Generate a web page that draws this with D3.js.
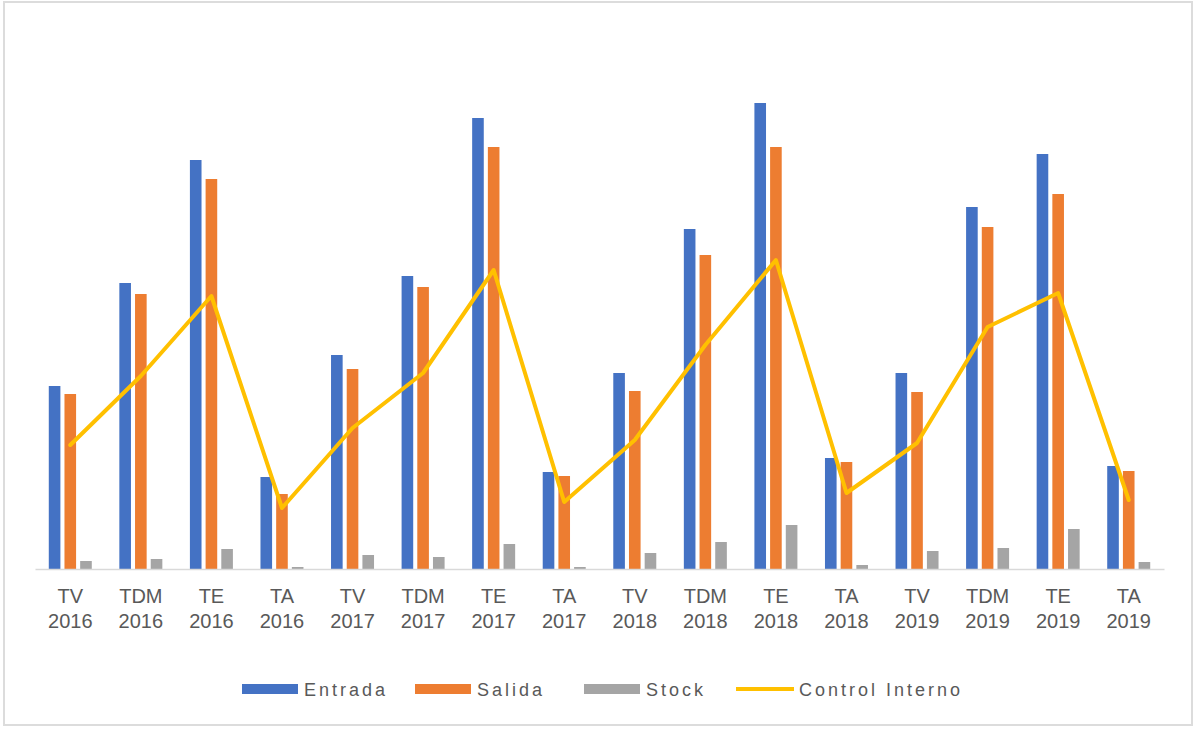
<!DOCTYPE html>
<html lang="es">
  <head>
    <meta charset="utf-8" />
    <title>Entrada, Salida, Stock y Control Interno</title>
    <script src="https://cdn.jsdelivr.net/npm/d3@7"></script>
    <style type="text/css">
      body {
        margin: 0;
        background: #ffffff;
      }
      text {
        font-family: "Liberation Sans", Arial, sans-serif;
        fill: #595959;
      }
    </style>
  </head>
  <body>
    <div id="chart"></div>

    <script type="text/javascript">
      /*******************************************
       * data
       *******************************************/

      const tipos = ["TV", "TDM", "TE", "TA"];
      const years = ["2016", "2017", "2018", "2019"];
      const categories = years.flatMap((y) => tipos.map((t) => `${t} ${y}`));

      const entrada = [183, 286, 409, 92, 214, 293, 451, 97, 196, 340, 466, 111, 196, 362, 415, 103];
      const salida = [175, 275, 390, 75, 200, 282, 422, 93, 178, 314, 422, 107, 177, 342, 375, 98];
      const stock = [8, 10, 20, 2, 14, 12, 25, 2, 16, 27, 44, 4, 18, 21, 40, 7];
      const controlInterno = [124, 193, 273, 61, 141, 196, 299, 67, 129, 224, 309, 76, 126, 242, 276, 69];

      const barKeys = ["Entrada", "Salida", "Stock"];
      const barValues = { Entrada: entrada, Salida: salida, Stock: stock };

      /********************************************
       * svg
       ********************************************/

      const width = 1194;
      const height = 729;
      const margin = { top: 69, right: 30, bottom: 160, left: 35 };

      const svg = d3
        .select("div#chart")
        .append("svg")
        .attr("width", width)
        .attr("height", height);

      // chart frame
      svg
        .append("rect")
        .attr("x", 4)
        .attr("y", 2)
        .attr("width", 1188)
        .attr("height", 723)
        .attr("fill", "#ffffff")
        .attr("stroke", "#dcdcdc")
        .attr("stroke-width", 2);

      /*********************************************
       * scales
       **********************************************/

      const xScale = d3
        .scaleBand()
        .domain(categories)
        .range([margin.left, width - margin.right]);

      const groupW = 43;
      const xSub = d3
        .scaleBand()
        .domain(barKeys)
        .range([(xScale.bandwidth() - groupW) / 2, (xScale.bandwidth() + groupW) / 2])
        .paddingInner(0.26);

      const yScale = d3
        .scaleLinear()
        .domain([0, 500])
        .range([height - margin.bottom, margin.top]);

      const colorScale = d3
        .scaleOrdinal()
        .domain(["Entrada", "Salida", "Stock", "Control Interno"])
        .range(["#4472C4", "#ED7D31", "#A5A5A5", "#FFC000"]);

      /*********************************************
       * bars
       **********************************************/

      const groups = svg
        .selectAll("g.group")
        .data(categories)
        .enter()
        .append("g")
        .attr("class", "group")
        .attr("transform", (d) => `translate(${xScale(d)}, 0)`);

      groups
        .selectAll("rect")
        .data((d, i) => barKeys.map((k) => ({ key: k, value: barValues[k][i] })))
        .enter()
        .append("rect")
        .attr("x", (d) => xSub(d.key))
        .attr("width", xSub.bandwidth())
        .attr("y", (d) => yScale(d.value))
        .attr("height", (d) => yScale(0) - yScale(d.value))
        .attr("fill", (d) => colorScale(d.key));

      /*********************************************
       * x axis
       **********************************************/

      const xAxis = d3.axisBottom(xScale).tickSize(0).tickFormat("");
      const axisG = svg
        .append("g")
        .attr("class", "x axis")
        .attr("transform", `translate(0, ${yScale(0)})`)
        .call(xAxis);
      axisG.select(".domain").attr("stroke", "#d9d9d9").attr("stroke-width", 1.5);

      const labels = axisG
        .selectAll("g.tick")
        .append("text")
        .attr("text-anchor", "middle")
        .style("font-size", "20px")
        .style("fill", "#595959");
      labels
        .append("tspan")
        .attr("x", 0)
        .attr("y", 34)
        .text((d) => d.split(" ")[0]);
      labels
        .append("tspan")
        .attr("x", 0)
        .attr("y", 59)
        .text((d) => d.split(" ")[1]);

      /*********************************************
       * line
       **********************************************/

      const line = d3
        .line()
        .x((d, i) => xScale(categories[i]) + xScale.bandwidth() / 2)
        .y((d) => yScale(d));

      svg
        .append("path")
        .datum(controlInterno)
        .attr("d", line)
        .attr("fill", "none")
        .attr("stroke", colorScale("Control Interno"))
        .attr("stroke-width", 4)
        .attr("stroke-linejoin", "round")
        .attr("stroke-linecap", "round");

      /*********************************************
       * legend
       **********************************************/

      const legendItems = [
        { name: "Entrada", x: 242, type: "rect" },
        { name: "Salida", x: 415, type: "rect" },
        { name: "Stock", x: 584, type: "rect" },
        { name: "Control Interno", x: 736, type: "line" },
      ];
      const legendY = 689;

      const legend = svg
        .selectAll("g.legend")
        .data(legendItems)
        .enter()
        .append("g")
        .attr("class", "legend")
        .attr("transform", (d) => `translate(${d.x}, ${legendY})`);

      legend
        .filter((d) => d.type === "rect")
        .append("rect")
        .attr("x", 0)
        .attr("y", -5)
        .attr("width", 56)
        .attr("height", 10)
        .attr("fill", (d) => colorScale(d.name));

      legend
        .filter((d) => d.type === "line")
        .append("line")
        .attr("x1", 0)
        .attr("x2", 58)
        .attr("y1", 0)
        .attr("y2", 0)
        .attr("stroke", (d) => colorScale(d.name))
        .attr("stroke-width", 4);

      legend
        .append("text")
        .attr("x", (d) => (d.type === "line" ? 63 : 62))
        .attr("y", 7)
        .style("font-size", "18px")
        .style("letter-spacing", "3px")
        .text((d) => d.name);
    </script>
  </body>
</html>
